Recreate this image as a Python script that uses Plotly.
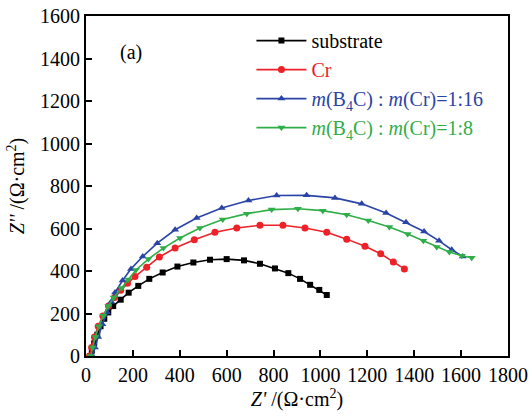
import plotly.graph_objects as go

# Nyquist data (Z', Z'')
sub_x = [17, 25, 35, 48, 62, 78, 95, 116, 148, 182, 223, 270, 327, 390, 458, 529, 600, 674, 742, 806, 863, 913, 956, 995, 1027]
sub_y = [0, 25, 60, 100, 140, 175, 205, 235, 265, 298, 330, 363, 393, 421, 440, 453, 456, 450, 434, 412, 390, 363, 335, 311, 287]

cr_x = [15, 24, 36, 52, 72, 96, 122, 148, 177, 209, 259, 313, 380, 462, 550, 643, 742, 840, 934, 1027, 1112, 1190, 1257, 1311, 1358]
cr_y = [0, 40, 90, 140, 188, 235, 275, 310, 342, 374, 418, 466, 508, 547, 582, 602, 615, 615, 602, 582, 550, 516, 481, 442, 410]

b16_x = [28, 38, 52, 70, 90, 108, 124, 156, 192, 242, 304, 380, 472, 579, 693, 813, 941, 1062, 1176, 1280, 1365, 1442, 1506, 1560, 1607]
b16_y = [0, 40, 90, 150, 205, 255, 299, 355, 410, 468, 531, 594, 649, 696, 732, 755, 756, 744, 716, 673, 629, 586, 542, 500, 468]

b8_x = [20, 28, 40, 55, 74, 95, 118, 152, 180, 213, 266, 330, 401, 486, 583, 686, 792, 904, 1010, 1112, 1204, 1294, 1372, 1439, 1496, 1550, 1603, 1645]
b8_y = [0, 40, 90, 140, 190, 235, 275, 320, 360, 405, 456, 508, 555, 602, 642, 670, 689, 693, 684, 665, 638, 607, 574, 542, 513, 489, 472, 462]

x_ticks = [0, 200, 400, 600, 800, 1000, 1200, 1400, 1600, 1800]
y_ticks = [0, 200, 400, 600, 800, 1000, 1200, 1400, 1600]

FONT = "Liberation Serif"
C_BLACK, C_RED, C_BLUE, C_GREEN = "#000000", "#ee2028", "#2a44a6", "#2fae48"

series = [
    ("substrate", sub_x, sub_y, C_BLACK, "square", 6),
    ("Cr", cr_x, cr_y, C_RED, "circle", 7),
    ("<i>m</i>(B<sub>4</sub>C) : <i>m</i>(Cr)=1:16", b16_x, b16_y, C_BLUE, "triangle-up", 7),
    ("<i>m</i>(B<sub>4</sub>C) : <i>m</i>(Cr)=1:8", b8_x, b8_y, C_GREEN, "triangle-down", 7),
]

fig = go.Figure()
for i, (name, xs, ys, col, sym, sz) in enumerate(series):
    fig.add_trace(go.Scatter(
        x=xs, y=ys, mode="lines+markers",
        name=f'<span style="color:{col}">{name}</span>',
        legendgroup=f"g{i}",
        line=dict(color=col, width=1.6),
        marker=dict(symbol=sym, size=sz, color=col),
    ))

axis_common = dict(
    showline=True, linecolor="black", linewidth=1.8, mirror=True,
    ticks="inside", ticklen=6, tickwidth=1.5, tickcolor="black",
    showgrid=False, zeroline=False, automargin=False,
    ticklabeloverflow="allow",
    tickfont=dict(family=FONT, size=20, color="black"),
)

fig.update_xaxes(range=[0, 1800], tickvals=x_ticks, **axis_common,
                 title=dict(text="<i>Z'</i> /(Ω·cm<sup>2</sup>)",
                            font=dict(family=FONT, size=20, color="black"), standoff=6))
fig.update_yaxes(range=[0, 1600], tickvals=y_ticks, **axis_common,
                 title=dict(text="<i>Z''</i> /(Ω·cm<sup>2</sup>)",
                            font=dict(family=FONT, size=20, color="black"), standoff=10))

fig.add_annotation(text="(a)", x=(118 - 86) / 422, y=(356 - 39) / 340,
                   xref="paper", yref="paper",
                   showarrow=False, font=dict(family=FONT, size=20, color="black"))

fig.update_layout(
    width=530, height=417,
    margin=dict(l=86, r=22, t=16, b=61),
    plot_bgcolor="white", paper_bgcolor="white",
    font=dict(family=FONT, size=20, color="black"),
    legend=dict(x=0.392, y=0.985, xanchor="left", yanchor="top",
                bgcolor="rgba(0,0,0,0)", itemwidth=50,
                traceorder="grouped", tracegroupgap=0,
                font=dict(family=FONT, size=20)),
)

# remove the page's default body margin so the figure sits at the window origin
fig.write_html("out.html", config={"displayModeBar": False},
               post_script="document.body.style.margin='0';")
